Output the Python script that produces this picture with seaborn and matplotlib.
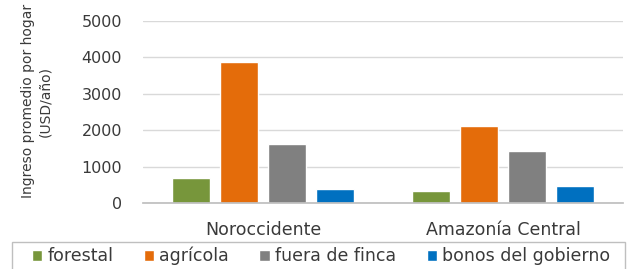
import matplotlib
matplotlib.use("Agg")
import matplotlib.pyplot as plt
import seaborn as sns
import pandas as pd
from matplotlib.patches import Rectangle

regions = ["Noroccidente", "Amazonía Central"]
sources = ["forestal", "agrícola", "fuera de finca", "bonos del gobierno"]
forestal = [680, 340]
agricola = [3870, 2110]
fuera_finca = [1620, 1430]
bonos = [380, 460]
yticks = [0, 1000, 2000, 3000, 4000, 5000]
colors = ["#77963B", "#E46C0A", "#808080", "#0070C0"]

rows = []
for name, vals in zip(sources, [forestal, agricola, fuera_finca, bonos]):
    for r, v in zip(regions, vals):
        rows.append({"region": r, "fuente": name, "valor": v})
df = pd.DataFrame(rows)

sns.set_theme(style="white")
plt.rcParams["font.family"] = ["DejaVu Sans"]
txt = "#3A3A3A"

fig = plt.figure(figsize=(6.3, 2.69), dpi=100)
ax = fig.add_axes([143/630, 1-203/269, 480/630, (203-21)/269])
sns.barplot(data=df, x="region", y="valor", hue="fuente", order=regions,
            hue_order=sources, palette=colors, width=0.8, gap=0.19,
            saturation=1, ax=ax, legend=True)
ax.set_ylim(0, 5000)
ax.set_xlim(-0.5, 1.5)
ax.set_yticks(yticks)
ax.set_yticklabels([str(t) for t in yticks], fontsize=11.5, color=txt)
ax.yaxis.grid(True, color="#D9D9D9", linewidth=1)
ax.set_axisbelow(True)
for s in ["left", "right", "top"]:
    ax.spines[s].set_visible(False)
ax.spines["bottom"].set_color("#BFBFBF")
ax.tick_params(axis="y", length=0, pad=15)
ax.tick_params(axis="x", which="major", length=0, pad=13, labelsize=12.5, labelcolor=txt)
ax.set_xticks([-0.5, 0.5, 1.5], minor=True)
ax.tick_params(axis="x", which="minor", length=4, color="#BFBFBF", direction="out")
ax.set_xlabel("")
ax.set_ylabel("Ingreso promedio por hogar\n(USD/año)", fontsize=10, color=txt,
              linespacing=1.25)
ax.yaxis.set_label_coords(-0.19, 0.56)

handles, labels = ax.get_legend_handles_labels()
ax.get_legend().remove()
fig.legend(handles, labels, loc="center", bbox_to_anchor=(321/630, 1-256/269),
           ncol=4, frameon=False, fontsize=12.5, handlelength=0.6, handleheight=0.6,
           handletextpad=0.3, columnspacing=1.75, labelcolor=txt)
fig.add_artist(Rectangle((12/630, -0.05), 613/630, 1-242/269+0.05,
                         transform=fig.transFigure, fill=False,
                         edgecolor="#BFBFBF", linewidth=1))
fig.savefig("out.png", dpi=100, facecolor="white")
